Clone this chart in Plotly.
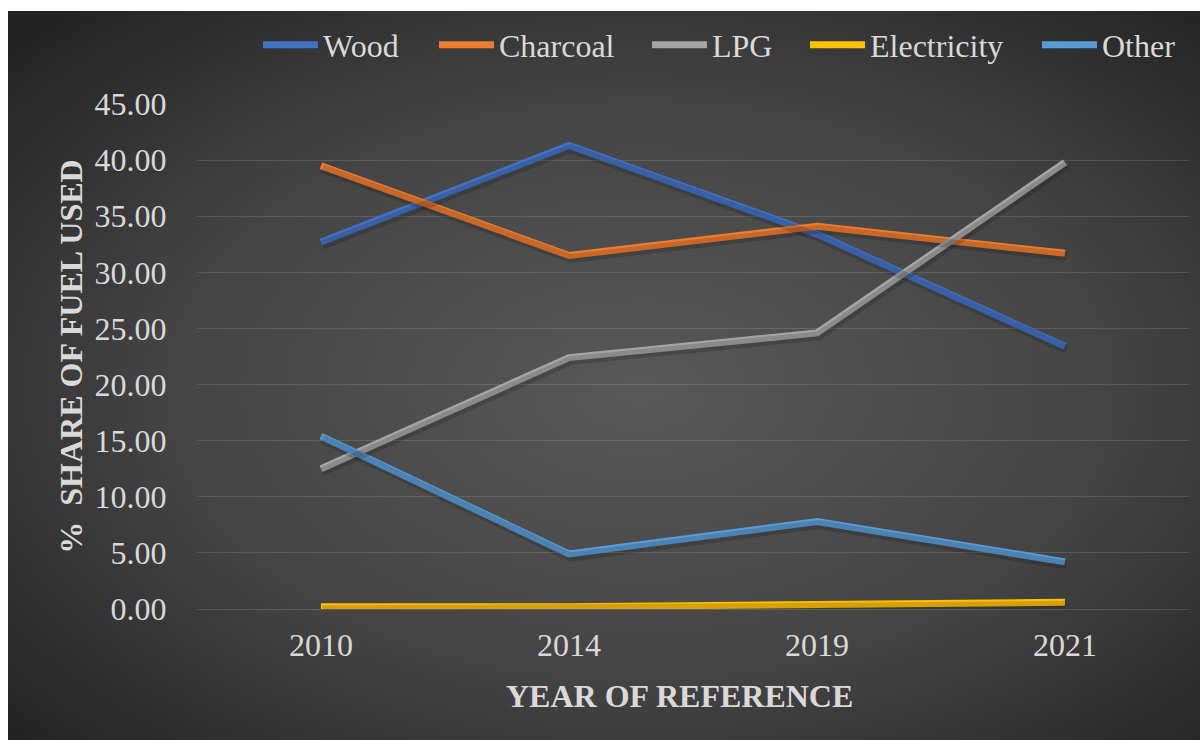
import base64
import plotly.graph_objects as go

years = ["2010", "2014", "2019", "2021"]
wood = [32.7, 41.3, 33.4, 23.4]
charcoal = [39.5, 31.5, 34.1, 31.7]
lpg = [12.5, 22.4, 24.6, 39.8]
electricity = [0.2, 0.2, 0.4, 0.6]
other = [15.4, 4.9, 7.8, 4.2]

series_names = ["Wood", "Charcoal", "LPG", "Electricity", "Other"]
series_values = [wood, charcoal, lpg, electricity, other]
series_colors = ["#4472C4", "#ED7D31", "#A5A5A5", "#FFC000", "#5B9BD5"]

W, H = 1200, 740
L, R, T, B = 197, 11, 104, 131
PW, PH = W - L - R, H - T - B
TEXT = "#D9D9D9"
FONT = "Liberation Serif, Times New Roman, serif"

# pixel position of each legend entry (left edge) along the top row
legend_px = [258, 434, 647, 805, 1037]

fig = go.Figure()

# soft drop shadows, drawn through slightly shifted scales
dx = 1.5 / (PW / 4)
dy = 3.0 / (PH / 45)
for vals in series_values:
    fig.add_trace(go.Scatter(
        x=years, y=vals, mode="lines", xaxis="x2", yaxis="y2",
        line=dict(color="rgba(0,0,0,0.16)", width=9),
        showlegend=False, hoverinfo="skip", cliponaxis=False,
    ))

legend_layout = {}
for i, (name, vals, col) in enumerate(zip(series_names, series_values, series_colors)):
    lg = "legend" if i == 0 else f"legend{i + 1}"
    fig.add_trace(go.Scatter(
        x=years, y=vals, mode="lines", name=name, legend=lg,
        line=dict(color=col, width=7),
        cliponaxis=False,
    ))
    legend_layout[lg] = dict(
        orientation="h", x=(legend_px[i] - L) / PW, xanchor="left",
        y=1 + (T - 45) / PH, yanchor="middle",
        font=dict(size=32, color=TEXT, family=FONT),
        bgcolor="rgba(0,0,0,0)", itemwidth=55,
    )

svg = (
    "<svg xmlns='http://www.w3.org/2000/svg' width='1192' height='729' viewBox='0 0 1192 729'>"
    "<defs><radialGradient id='g' cx='0.53' cy='0.52' r='0.72'>"
    "<stop offset='0' stop-color='#585858'/>"
    "<stop offset='0.55' stop-color='#444444'/>"
    "<stop offset='1' stop-color='#222222'/>"
    "</radialGradient></defs>"
    "<rect width='1192' height='729' fill='url(#g)'/></svg>"
)
src = "data:image/svg+xml;base64," + base64.b64encode(svg.encode()).decode()

fig.update_layout(
    width=W, height=H,
    margin=dict(l=L, r=R, t=T, b=B, pad=0),
    paper_bgcolor="white",
    plot_bgcolor="rgba(0,0,0,0)",
    font=dict(family=FONT, size=32, color=TEXT),
    images=[dict(
        source=src, xref="paper", yref="paper",
        x=(8 - L) / PW, y=1 + (T - 11) / PH,
        sizex=1192 / PW, sizey=729 / PH,
        xanchor="left", yanchor="top", sizing="stretch", layer="below",
    )],
    xaxis=dict(
        type="category", range=[-0.5, 3.5], showgrid=False, zeroline=False,
        showline=False, ticks="outside", ticklen=8, tickcolor="rgba(0,0,0,0)",
        tickfont=dict(size=32, color=TEXT, family=FONT),
    ),
    yaxis=dict(
        range=[0, 45], dtick=5, tickformat=".2f",
        showgrid=True, gridcolor="rgba(255,255,255,0.13)", gridwidth=1.3,
        zeroline=True, zerolinecolor="rgba(255,255,255,0.13)", zerolinewidth=1.3,
        showline=False, ticks="outside", ticklen=23, tickcolor="rgba(0,0,0,0)",
        tickfont=dict(size=32, color=TEXT, family=FONT),
        title=dict(text="<b>%  SHARE OF FUEL USED</b>", standoff=2,
                   font=dict(size=32, color=TEXT, family=FONT)),
    ),
    xaxis2=dict(type="category", overlaying="x", range=[-0.5 - dx, 3.5 - dx],
                visible=False),
    yaxis2=dict(overlaying="y", range=[0 + dy, 45 + dy], visible=False),
    annotations=[dict(
        text="<b>YEAR OF REFERENCE</b>", xref="paper", yref="paper",
        x=(679.5 - L) / PW, y=-(695.5 - (T + PH)) / PH,
        xanchor="center", yanchor="middle", showarrow=False,
        font=dict(size=32, color=TEXT, family=FONT),
    )],
    showlegend=True,
    **legend_layout,
)

fig.write_html("out.html")
